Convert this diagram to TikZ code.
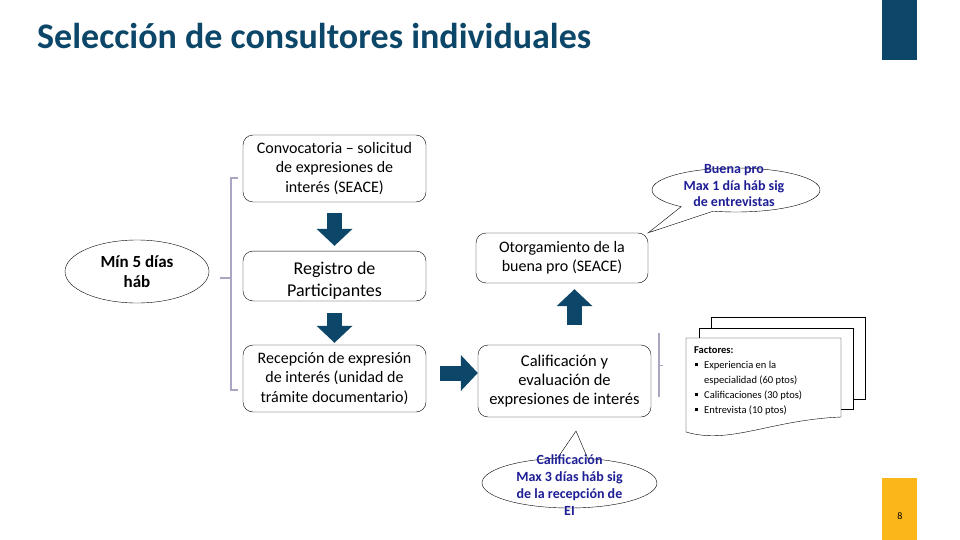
\documentclass[tikz,border=0pt]{standalone}
\usepackage{fontspec}
\setmainfont{Carlito}
\usepackage{tikz}
\usetikzlibrary{shapes, shapes.callouts, arrows.meta, positioning, calc}
\definecolor{deepteal}{RGB}{12, 70, 104}
\definecolor{sunyellow}{RGB}{251, 183, 25}
\definecolor{notenavy}{RGB}{30, 30, 150}
\definecolor{bracketgray}{RGB}{170, 165, 195}
\newcommand{\factbul}{\hspace*{1pt}\rule[2pt]{3pt}{3pt}\hspace*{6pt}}

\begin{document}
\begin{tikzpicture}[
  x=1pt, y=-1pt,
  stepbox/.style={draw, rounded corners=10pt, align=center, inner sep=2pt},
  blockarrow/.style={line width=15pt, deepteal, -{Triangle[width=35pt, length=17pt]}},
  bracketline/.style={bracketgray, line width=2.5pt},
  notebubble/.style={ellipse callout, draw, fill=white, inner sep=0pt},
  notetext/.style={align=center, text=notenavy, font=\bfseries\fontsize{14}{16.5}\selectfont}
]
  \useasboundingbox (0,0) rectangle (960,540);

  % title and side bars
  \node[anchor=base west, text=deepteal, font=\bfseries\fontsize{36}{36}\selectfont, inner sep=0pt] (title) at (37,49) {Selección de consultores individuales};
  \fill[deepteal] (882,0) rectangle (917,60);
  \fill[sunyellow] (882,478) rectangle (917,540);
  \node[font=\fontsize{10}{10}\selectfont] (pagenum) at (900,516) {8};

  % process boxes
  \node[stepbox, minimum width=183pt, minimum height=67pt, font=\fontsize{16}{19.5}\selectfont] (conv) at (334.5,168.5) {Convocatoria -- solicitud\\de expresiones de\\interés (SEACE)};
  \node[stepbox, minimum width=183pt, minimum height=48pt, font=\fontsize{18}{22}\selectfont] (regis) at (334.5,276) {\rule{0pt}{21pt}Registro de\\Participantes};
  \node[stepbox, minimum width=183pt, minimum height=67pt, font=\fontsize{16}{19.5}\selectfont] (recep) at (334.5,378.5) {Recepción de expresión\\de interés (unidad de\\trámite documentario)};
  \node[stepbox, minimum width=173pt, minimum height=72pt, font=\fontsize{16.5}{19}\selectfont] (calif) at (564.5,381) {Calificación y\\evaluación de\\expresiones de interés};
  \node[stepbox, minimum width=172pt, minimum height=50pt, font=\fontsize{16}{19}\selectfont] (otorg) at (562,258) {Otorgamiento de la\\buena pro (SEACE)};

  % duration ellipse and brackets
  \node[ellipse, draw, minimum width=144pt, minimum height=63pt, inner sep=0pt, align=center, font=\bfseries\fontsize{17}{20}\selectfont] (plazo) at (137,271.5) {Mín 5 días\\háb};
  \draw[bracketline] (238,178) -- (231,178) -- (231,390) -- (238,390);
  \draw[bracketline] (220,278) -- (231,278);
  \draw[bracketline] (659,333) -- (659,397);
  \draw[bracketgray, line width=1pt] (659,365) -- (663,365);

  % block arrows
  \coordinate (rowA) at (0,373);
  \coordinate (colB) at (574.5,0);
  \draw[blockarrow, shorten <=11pt, shorten >=5pt] (conv) -- (regis);
  \draw[blockarrow, shorten <=12pt, shorten >=2pt] (regis) -- (recep);
  \draw[blockarrow, shorten <=14pt] (recep.east |- rowA) -- (calif.west |- rowA);
  \draw[blockarrow, shorten <=20pt, shorten >=6pt] (calif.north -| colB) -- (otorg.south -| colB);

  % callouts
  \node[notebubble, minimum width=168pt, minimum height=44pt, callout pointer arc=25, callout absolute pointer={(otorg.north east)}] (buenapro) at (736,190) {};
  \node[notetext] (buenaprotxt) at (734,186) {Buena pro\\Max 1 día háb sig\\de entrevistas};
  \node[notebubble, minimum width=175pt, minimum height=50pt, callout pointer arc=20, callout absolute pointer={(576,431)}] (califnote) at (569.5,483) {};
  \node[notetext, font=\bfseries\fontsize{14}{17}\selectfont] (califnotetxt) at (569.5,485.5) {Calificación\\Max 3 días háb sig\\de la recepción de\\EI};

  % stacked documents
  \filldraw[fill=white] (711,317) rectangle (865,399);
  \filldraw[fill=white] (699,328) rectangle (853,409);
  \filldraw[fill=white] (686,338) -- (841,338) -- (841,417)
    .. controls (770,420) and (730,445) .. (686,432) -- cycle;
  \node[anchor=north west, align=left, inner sep=0pt, font=\fontsize{10.5}{15}\selectfont] (factores) at (694,346) {\textbf{Factores:}\\
    \factbul Experiencia en la\\
    \hspace*{10pt}especialidad (60 ptos)\\
    \factbul Calificaciones (30 ptos)\\
    \factbul Entrevista (10 ptos)};
\end{tikzpicture}
\end{document}
